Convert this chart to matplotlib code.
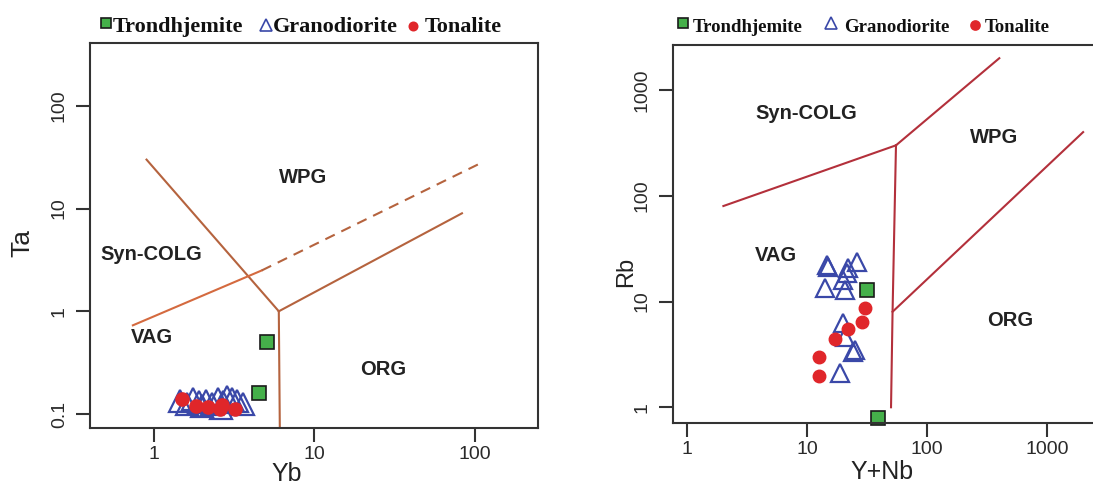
import matplotlib
matplotlib.use("Agg")
import matplotlib.pyplot as plt
from matplotlib.lines import Line2D

plt.rcParams['font.family'] = ['Liberation Sans', 'DejaVu Sans']

# ─────────────────────────────────────────────────────────────
# Data: Ta vs Yb (left panel)
# ─────────────────────────────────────────────────────────────
yb_trond = [5.1, 4.5]
ta_trond = [0.50, 0.16]

yb_grano = [1.45, 1.6, 1.75, 1.9, 2.1, 2.3, 2.5, 2.7, 2.85, 3.05, 3.3, 3.6, 2.0, 2.6]
ta_grano = [0.135, 0.125, 0.14, 0.13, 0.135, 0.125, 0.14, 0.13, 0.145, 0.14, 0.135, 0.125, 0.12, 0.115]

yb_tonal = [1.49, 1.83, 2.17, 2.58, 2.65, 3.2]
ta_tonal = [0.139, 0.119, 0.116, 0.111, 0.121, 0.111]

# discrimination boundaries (Pearce et al. 1984)
ta_syn_wpg_x, ta_syn_wpg_y = [0.9, 6.0], [30, 1.0]
ta_vert_x, ta_vert_y = [6.0, 6.1], [1.0, 0.05]
ta_org_wpg_x, ta_org_wpg_y = [6.0, 83], [1.0, 9.0]
ta_vag_syn_x, ta_vag_syn_y = [0.74, 4.7], [0.73, 2.5]
ta_dash_x, ta_dash_y = [4.7, 110], [2.5, 28]

# ─────────────────────────────────────────────────────────────
# Data: Rb vs Y+Nb (right panel)
# ─────────────────────────────────────────────────────────────
ynb_trond = [31.6, 39]
rb_trond = [12.8, 0.80]

ynb_grano = [14.7, 14.9, 26.1, 22.0, 21.6, 20.0, 14.1, 20.7, 20.0, 20.7, 25.1, 24.2, 18.8]
rb_grano = [22.0, 21.1, 23.5, 20.6, 18.5, 15.9, 13.4, 12.8, 6.2, 4.6, 3.46, 3.3, 2.1]

ynb_tonal = [30.4, 28.7, 22.0, 17.1, 12.6, 12.6]
rb_tonal = [8.6, 6.4, 5.5, 4.4, 3.0, 1.96]

rb_syn_vag_x, rb_syn_vag_y = [2, 55], [80, 300]
rb_syn_wpg_x, rb_syn_wpg_y = [55, 400], [300, 2000]
rb_vert_x, rb_vert_y = [55, 51.5, 50], [300, 8, 1]
rb_org_wpg_x, rb_org_wpg_y = [51.5, 2000], [8, 400]

# ─────────────────────────────────────────────────────────────
# Styles
# ─────────────────────────────────────────────────────────────
GREEN = '#45b04a'
BLUE = '#3a48a8'
RED = '#e0262a'
BROWN = '#b5633e'
ORANGE = '#d46a3f'
CRIMSON = '#b3303b'
AXC = '#333333'

fig = plt.figure(figsize=(10.93, 4.87), dpi=100)
W, H = 1093, 487


def box(x0, y0, x1, y1):
    return [x0 / W, 1 - y1 / H, (x1 - x0) / W, (y1 - y0) / H]


def style_axes(ax):
    for s in ax.spines.values():
        s.set_linewidth(1.5)
        s.set_color(AXC)
    ax.minorticks_off()
    ax.tick_params(axis='both', which='major', direction='out', length=10,
                   width=1.5, color=AXC, labelsize=14, labelcolor='#2a2a2a')
    ax.tick_params(axis='x', pad=3)
    ax.tick_params(axis='y', pad=6, labelrotation=90)
    for lab in ax.get_yticklabels():
        lab.set_va('center')


region_font = dict(fontsize=14.5, fontweight='bold', color='#222222',
                   ha='center', va='center')

# ---------------- left panel ----------------
ax1 = fig.add_axes(box(90, 43, 538, 428))
ax1.set_xscale('log')
ax1.set_yscale('log')
ax1.set_xlim(0.40, 247)
ax1.set_ylim(0.073, 410)

ax1.plot(ta_syn_wpg_x, ta_syn_wpg_y, color=BROWN, lw=1.5)
ax1.plot(ta_vert_x, ta_vert_y, color=BROWN, lw=1.5)
ax1.plot(ta_org_wpg_x, ta_org_wpg_y, color=BROWN, lw=1.5)
ax1.plot(ta_vag_syn_x, ta_vag_syn_y, color=ORANGE, lw=1.5)
ax1.plot(ta_dash_x, ta_dash_y, color=BROWN, lw=1.5, dashes=(5, 3.5))

ax1.plot(yb_grano, ta_grano, ls='none', marker='^', ms=16, mfc='none',
         mec=BLUE, mew=1.6)
ax1.plot(yb_tonal, ta_tonal, ls='none', marker='o', ms=9.5, mfc=RED,
         mec=RED)
ax1.plot(yb_trond, ta_trond, ls='none', marker='s', ms=9.5, mfc=GREEN,
         mec='#1a1a1a', mew=1.2)

ax1.set_xticks([1, 10, 100], ['1', '10', '100'])
ax1.set_yticks([0.1, 1, 10, 100], ['0.1', '1', '10', '100'])
style_axes(ax1)

ax1.text(8.5, 20, 'WPG', **region_font)
ax1.text(0.97, 3.6, 'Syn-COLG', **region_font)
ax1.text(0.97, 0.55, 'VAG', **region_font)
ax1.text(27, 0.27, 'ORG', **region_font)

ax1.text(0.44, -0.12, 'Yb', transform=ax1.transAxes, fontsize=18,
         ha='center', va='center', color='#222222')
ax1.text(-0.152, 0.48, 'Ta', transform=ax1.transAxes, fontsize=19,
         rotation=90, ha='center', va='center', color='#222222')

# ---------------- right panel ----------------
ax2 = fig.add_axes(box(673, 45, 1095, 423))
ax2.set_xscale('log')
ax2.set_yscale('log')
ax2.set_xlim(0.76, 2512)
ax2.set_ylim(0.71, 2666)

for xs, ys in [(rb_syn_vag_x, rb_syn_vag_y), (rb_syn_wpg_x, rb_syn_wpg_y),
               (rb_vert_x, rb_vert_y), (rb_org_wpg_x, rb_org_wpg_y)]:
    ax2.plot(xs, ys, color=CRIMSON, lw=1.5)

ax2.plot(ynb_grano, rb_grano, ls='none', marker='^', ms=13, mfc='none',
         mec=BLUE, mew=1.6)
ax2.plot(ynb_tonal, rb_tonal, ls='none', marker='o', ms=9, mfc=RED,
         mec=RED)
ax2.plot(ynb_trond, rb_trond, ls='none', marker='s', ms=9.5, mfc=GREEN,
         mec='#1a1a1a', mew=1.2, clip_on=False)

ax2.set_xticks([1, 10, 100, 1000], ['1', '10', '100', '1000'])
ax2.set_yticks([1, 10, 100, 1000], ['1', '10', '100', '1000'])
style_axes(ax2)

ax2.text(9.8, 605, 'Syn-COLG', **region_font)
ax2.text(362, 358, 'WPG', **region_font)
ax2.text(5.5, 27, 'VAG', **region_font)
ax2.text(490, 6.65, 'ORG', **region_font)

ax2.text(0.495, -0.13, 'Y+Nb', transform=ax2.transAxes, fontsize=18,
         ha='center', va='center', color='#222222')
ax2.text(-0.11, 0.40, 'Rb', transform=ax2.transAxes, fontsize=17,
         rotation=90, ha='center', va='center', color='#222222')

# ─────────────────────────────────────────────────────────────
# Legends drawn above each panel
# ─────────────────────────────────────────────────────────────
def legend_item(px, py, marker, mfc, mec, ms, tx, label, size, weight):
    fig.add_artist(Line2D([px / W], [1 - py / H], marker=marker, ms=ms,
                          mfc=mfc, mec=mec, mew=1.2, ls='none',
                          transform=fig.transFigure))
    fig.text(tx / W, 1 - 32 / H, label, fontsize=size, fontweight=weight,
             family=['Liberation Serif', 'DejaVu Serif'], color='#111111',
             ha='left', va='baseline')


legend_item(106, 23, 's', GREEN, '#1a1a1a', 7, 113, 'Trondhjemite', 16, 'bold')
legend_item(266, 25, '^', 'none', BLUE, 8, 273, 'Granodiorite', 16, 'bold')
legend_item(413, 26, 'o', RED, RED, 6, 425, 'Tonalite', 16, 'bold')

legend_item(683, 23, 's', GREEN, '#1a1a1a', 7.5, 693, 'Trondhjemite', 13.5, 'bold')
legend_item(831, 23, '^', 'none', BLUE, 9, 844, 'Granodiorite', 13.5, 'bold')
legend_item(975, 25, 'o', RED, RED, 6.5, 985, 'Tonalite', 13.5, 'bold')

fig.savefig('out.png', dpi=100)
